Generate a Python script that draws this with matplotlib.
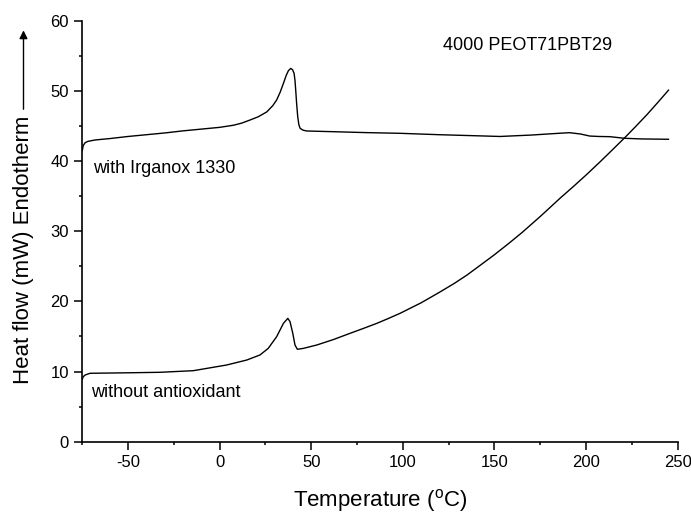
import matplotlib
matplotlib.use("Agg")
import matplotlib.pyplot as plt
from matplotlib.ticker import MultipleLocator

plt.rcParams['font.family'] = ['Liberation Sans', 'DejaVu Sans']
plt.rcParams['mathtext.fontset'] = 'custom'
plt.rcParams['mathtext.rm'] = 'Liberation Sans'
plt.rcParams['axes.unicode_minus'] = False

# with Irganox 1330 (upper curve)
temp_irganox = [-75, -74.5, -73.5, -72, -68, -60, -50, -40, -30, -20, -10, 0,
                7.5, 12, 16.6, 21, 25.7, 29, 31.1, 33, 34.8, 36.3, 37.5, 38.8,
                39.8, 40.6, 41.1, 41.5, 42, 42.6, 43.2, 43.9, 45.5, 47.5, 62,
                80, 98.5, 120, 140, 153, 170, 185, 191, 197, 202, 207, 213,
                221, 230, 245]
flow_irganox = [41.5, 42.2, 42.6, 42.8, 43.0, 43.2, 43.5, 43.75, 44.0, 44.3,
                44.55, 44.8, 45.1, 45.4, 45.85, 46.3, 47.0, 47.9, 48.7, 49.8,
                51.07, 52.2, 52.87, 53.2, 53.0, 52.5, 51.5, 50.1, 48.2, 46.3,
                45.2, 44.66, 44.4, 44.28, 44.18, 44.05, 43.95, 43.75, 43.6,
                43.5, 43.7, 43.95, 44.04, 43.85, 43.56, 43.5, 43.47, 43.24,
                43.15, 43.1]

# without antioxidant (lower curve)
temp_plain = [-75, -74.5, -73.5, -70.8, -50, -32.6, -14.4, 3.8, 14.8, 22,
              26.5, 31.1, 34.8, 37.2, 38.4, 39.9, 41.1, 42.4, 45.7, 53, 62,
              71.2, 78, 85.8, 92, 98.5, 110, 120, 128, 135, 142, 150, 158,
              165, 170, 175, 180, 185.8, 193, 200.4, 207.7, 214, 221.4, 227,
              233.2, 239, 245]
flow_plain = [8.9, 9.26, 9.5, 9.75, 9.82, 9.89, 10.12, 10.93, 11.64, 12.36,
              13.3, 14.97, 16.87, 17.58, 17.1, 15.45, 13.78, 13.17, 13.3,
              13.78, 14.55, 15.45, 16.1, 16.87, 17.55, 18.3, 19.8, 21.3, 22.55,
              23.75, 25.1, 26.65, 28.3, 29.8, 30.95, 32.1, 33.3, 34.7, 36.35,
              38.1, 39.9, 41.5, 43.4, 44.9, 46.6, 48.3, 50.1]

fig = plt.figure(figsize=(6.91, 5.16), dpi=100)
ax = fig.add_axes([0.1191, 0.1440, 0.8616, 0.8159])

ax.plot(temp_irganox, flow_irganox, color='black', lw=1.0)
ax.plot(temp_plain, flow_plain, color='black', lw=1.0)

ax.set_xlim(-75, 250)
ax.set_ylim(0, 60)
ax.xaxis.set_major_locator(MultipleLocator(50))
ax.xaxis.set_minor_locator(MultipleLocator(25))
ax.yaxis.set_major_locator(MultipleLocator(10))
ax.yaxis.set_minor_locator(MultipleLocator(5))
ax.spines['top'].set_visible(False)
ax.spines['right'].set_visible(False)
for s in ['left', 'bottom']:
    ax.spines[s].set_linewidth(1.2)
ax.tick_params(which='major', direction='out', length=6, width=1.1, labelsize=12)
ax.tick_params(which='minor', direction='out', length=2.5, width=1.1)

ax.text(122, 56.4, '4000 PEOT71PBT29', fontsize=13, va='center', ha='left')
ax.text(-69, 39.0, 'with Irganox 1330', fontsize=13, va='center', ha='left')
ax.text(-70, 6.95, 'without antioxidant', fontsize=13, va='center', ha='left')

ax.set_xlabel('Temperature ($^{\\rm o}$C)', fontsize=16, labelpad=12)

# y label with the endotherm arrow above it
fig.text(0.034, 0.5155, 'Heat flow (mW) Endotherm', rotation=90,
         fontsize=16, ha='center', va='center')
ax.annotate('', xy=(0.034, 1 - 27.6 / 516), xycoords='figure fraction',
            xytext=(0.034, 1 - 112 / 516), textcoords='figure fraction',
            arrowprops=dict(arrowstyle='-|>', color='black', lw=1.0,
                            mutation_scale=12))

fig.savefig('out.png', dpi=100)
